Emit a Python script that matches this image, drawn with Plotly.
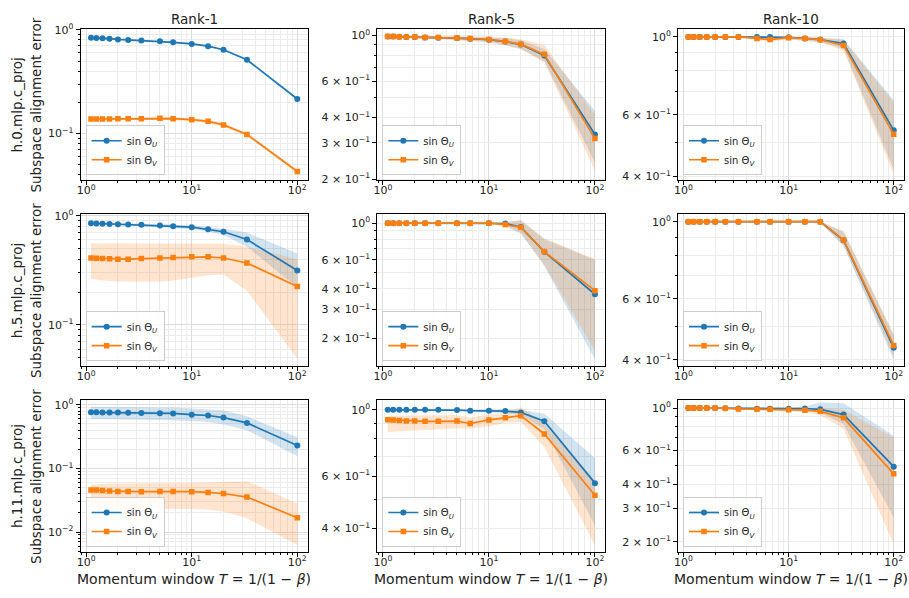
import plotly.graph_objects as go
import math

# ---------------- data ----------------
betas = [0.1, 0.2, 0.3, 0.4, 0.5, 0.6, 0.7, 0.8, 0.85, 0.9, 0.93, 0.95, 0.97, 0.99]
T = [1.0 / (1.0 - b) for b in betas]

layers = ["h.0.mlp.c_proj", "h.5.mlp.c_proj", "h.11.mlp.c_proj"]
ranks = ["Rank-1", "Rank-5", "Rank-10"]
series_names = ["sin Θ<sub><i>U</i></sub>", "sin Θ<sub><i>V</i></sub>"]

# h.0 / Rank-1
h0_r1_U = [0.837, 0.835, 0.83, 0.822, 0.808, 0.80, 0.787, 0.775, 0.758, 0.732, 0.695, 0.643, 0.514, 0.215]
h0_r1_U_lo = [0.825, 0.823, 0.818, 0.81, 0.797, 0.789, 0.776, 0.764, 0.745, 0.72, 0.683, 0.632, 0.505, 0.21]
h0_r1_U_hi = [0.849, 0.847, 0.842, 0.834, 0.82, 0.812, 0.798, 0.787, 0.771, 0.745, 0.707, 0.655, 0.524, 0.221]
h0_r1_V = [0.138, 0.138, 0.138, 0.138, 0.139, 0.139, 0.139, 0.14, 0.139, 0.136, 0.131, 0.121, 0.098, 0.043]
h0_r1_V_lo = [0.134, 0.134, 0.134, 0.134, 0.135, 0.135, 0.135, 0.136, 0.134, 0.131, 0.126, 0.116, 0.095, 0.0415]
h0_r1_V_hi = [0.142, 0.142, 0.142, 0.142, 0.143, 0.143, 0.143, 0.144, 0.144, 0.141, 0.136, 0.126, 0.101, 0.0445]

# h.0 / Rank-5
h0_r5_U = [0.99, 0.99, 0.988, 0.985, 0.983, 0.98, 0.977, 0.972, 0.966, 0.955, 0.935, 0.905, 0.80, 0.33]
h0_r5_U_lo = [0.985, 0.984, 0.982, 0.978, 0.975, 0.97, 0.965, 0.955, 0.945, 0.93, 0.90, 0.86, 0.75, 0.24]
h0_r5_U_hi = [0.995, 0.995, 0.994, 0.992, 0.99, 0.99, 0.988, 0.988, 0.985, 0.98, 0.97, 0.95, 0.86, 0.43]
h0_r5_V = [0.99, 0.99, 0.988, 0.985, 0.983, 0.98, 0.978, 0.973, 0.968, 0.957, 0.937, 0.908, 0.81, 0.315]
h0_r5_V_lo = [0.982, 0.981, 0.978, 0.975, 0.97, 0.965, 0.96, 0.95, 0.94, 0.925, 0.895, 0.86, 0.74, 0.22]
h0_r5_V_hi = [0.998, 0.998, 0.997, 0.995, 0.995, 0.995, 0.995, 0.995, 0.995, 0.99, 0.98, 0.96, 0.90, 0.41]

# h.0 / Rank-10
h0_r10_U = [1.0, 1.0, 1.0, 1.0, 1.0, 1.0, 1.0, 1.0, 1.0, 0.998, 0.99, 0.983, 0.958, 0.542]
h0_r10_U_lo = [0.998, 0.998, 0.998, 0.998, 0.998, 0.997, 0.996, 0.99, 0.985, 0.985, 0.975, 0.965, 0.925, 0.42]
h0_r10_U_hi = [1.0, 1.0, 1.0, 1.0, 1.0, 1.0, 1.0, 1.0, 1.0, 1.0, 1.0, 0.995, 0.985, 0.66]
h0_r10_V = [1.0, 1.0, 1.0, 1.0, 1.0, 1.0, 1.0, 0.99, 0.983, 0.995, 0.99, 0.982, 0.946, 0.528]
h0_r10_V_lo = [0.998, 0.998, 0.998, 0.998, 0.998, 0.997, 0.996, 0.98, 0.97, 0.985, 0.975, 0.965, 0.915, 0.405]
h0_r10_V_hi = [1.0, 1.0, 1.0, 1.0, 1.0, 1.0, 1.0, 0.995, 0.995, 1.0, 1.0, 0.995, 0.98, 0.65]

# h.5 / Rank-1
h5_r1_U = [0.853, 0.85, 0.845, 0.84, 0.835, 0.83, 0.825, 0.815, 0.80, 0.785, 0.753, 0.713, 0.605, 0.315]
h5_r1_U_lo = [0.835, 0.832, 0.827, 0.822, 0.817, 0.81, 0.805, 0.79, 0.775, 0.755, 0.715, 0.665, 0.52, 0.22]
h5_r1_U_hi = [0.87, 0.868, 0.863, 0.858, 0.853, 0.85, 0.845, 0.84, 0.83, 0.815, 0.79, 0.76, 0.70, 0.45]
h5_r1_V = [0.41, 0.408, 0.405, 0.403, 0.40, 0.40, 0.405, 0.41, 0.415, 0.42, 0.42, 0.41, 0.369, 0.225]
h5_r1_V_lo = [0.265, 0.26, 0.255, 0.252, 0.25, 0.248, 0.248, 0.25, 0.255, 0.27, 0.285, 0.29, 0.206, 0.049]
h5_r1_V_hi = [0.56, 0.56, 0.558, 0.555, 0.555, 0.555, 0.557, 0.56, 0.56, 0.56, 0.56, 0.555, 0.52, 0.40]

# h.5 / Rank-5
h5_r5_U = [1.0, 1.0, 1.0, 1.0, 1.0, 1.0, 1.0, 1.0, 1.0, 1.0, 0.995, 0.947, 0.67, 0.371]
h5_r5_U_lo = [0.999, 0.999, 0.999, 0.999, 0.999, 0.999, 0.999, 0.999, 0.999, 0.998, 0.97, 0.87, 0.55, 0.15]
h5_r5_U_hi = [1.0, 1.0, 1.0, 1.0, 1.0, 1.0, 1.0, 1.0, 1.0, 1.0, 1.01, 1.04, 0.80, 0.60]
h5_r5_V = [1.0, 1.0, 1.0, 1.0, 1.0, 1.0, 1.0, 1.0, 1.0, 1.0, 0.98, 0.945, 0.672, 0.39]
h5_r5_V_lo = [0.999, 0.999, 0.999, 0.999, 0.999, 0.999, 0.999, 0.999, 0.999, 0.998, 0.95, 0.87, 0.56, 0.168]
h5_r5_V_hi = [1.0, 1.0, 1.0, 1.0, 1.0, 1.0, 1.0, 1.0, 1.0, 1.0, 1.01, 1.04, 0.81, 0.607]

# h.5 / Rank-10
h5_r10_U = [1.0, 1.0, 1.0, 1.0, 1.0, 1.0, 1.0, 1.0, 1.0, 1.0, 1.0, 1.0, 0.884, 0.433]
h5_r10_U_lo = [0.999, 0.999, 0.999, 0.999, 0.999, 0.999, 0.999, 0.999, 0.999, 0.999, 0.999, 0.995, 0.85, 0.40]
h5_r10_U_hi = [1.0, 1.0, 1.0, 1.0, 1.0, 1.0, 1.0, 1.0, 1.0, 1.0, 1.0, 1.0, 0.935, 0.47]
h5_r10_V = [1.0, 1.0, 1.0, 1.0, 1.0, 1.0, 1.0, 1.0, 1.0, 1.0, 1.0, 1.0, 0.886, 0.44]
h5_r10_V_lo = [0.999, 0.999, 0.999, 0.999, 0.999, 0.999, 0.999, 0.999, 0.999, 0.999, 0.999, 0.995, 0.855, 0.41]
h5_r10_V_hi = [1.0, 1.0, 1.0, 1.0, 1.0, 1.0, 1.0, 1.0, 1.0, 1.0, 1.0, 1.0, 0.94, 0.475]

# h.11 / Rank-1
h11_r1_U = [0.764, 0.762, 0.76, 0.758, 0.755, 0.75, 0.745, 0.74, 0.733, 0.70, 0.68, 0.63, 0.52, 0.229]
h11_r1_U_lo = [0.60, 0.60, 0.60, 0.595, 0.592, 0.59, 0.585, 0.58, 0.575, 0.555, 0.535, 0.49, 0.40, 0.155]
h11_r1_U_hi = [0.93, 0.93, 0.925, 0.925, 0.92, 0.92, 0.915, 0.91, 0.905, 0.88, 0.86, 0.82, 0.66, 0.31]
h11_r1_V = [0.046, 0.046, 0.045, 0.044, 0.0435, 0.0433, 0.0432, 0.0433, 0.0433, 0.0432, 0.042, 0.0404, 0.0355, 0.0168]
h11_r1_V_lo = [0.024, 0.024, 0.0238, 0.0235, 0.0232, 0.023, 0.023, 0.023, 0.023, 0.023, 0.0225, 0.021, 0.0165, 0.0063]
h11_r1_V_hi = [0.056, 0.057, 0.057, 0.058, 0.058, 0.058, 0.058, 0.058, 0.058, 0.059, 0.06, 0.062, 0.063, 0.028]

# h.11 / Rank-5
h11_r5_U = [1.0, 1.0, 1.0, 1.0, 1.0, 1.0, 1.0, 0.998, 0.993, 0.993, 0.99, 0.98, 0.916, 0.568]
h11_r5_U_lo = [0.998, 0.998, 0.998, 0.998, 0.998, 0.998, 0.997, 0.995, 0.985, 0.98, 0.975, 0.96, 0.86, 0.41]
h11_r5_U_hi = [1.0, 1.0, 1.0, 1.0, 1.0, 1.0, 1.0, 1.0, 1.0, 1.0, 1.0, 1.0, 0.97, 0.69]
h11_r5_V = [0.927, 0.925, 0.92, 0.918, 0.918, 0.915, 0.915, 0.917, 0.90, 0.925, 0.94, 0.956, 0.83, 0.517]
h11_r5_V_lo = [0.843, 0.845, 0.848, 0.85, 0.852, 0.855, 0.86, 0.865, 0.865, 0.88, 0.905, 0.91, 0.75, 0.352]
h11_r5_V_hi = [0.955, 0.955, 0.955, 0.955, 0.955, 0.955, 0.955, 0.96, 0.94, 0.965, 0.98, 1.02, 0.90, 0.58]

# h.11 / Rank-10
h11_r10_U = [1.0, 1.0, 1.0, 1.0, 1.0, 0.998, 0.995, 0.993, 0.993, 0.993, 0.995, 0.985, 0.925, 0.494]
h11_r10_U_lo = [0.998, 0.998, 0.998, 0.998, 0.997, 0.994, 0.99, 0.985, 0.982, 0.98, 0.975, 0.95, 0.82, 0.268]
h11_r10_U_hi = [1.0, 1.0, 1.0, 1.0, 1.0, 1.0, 1.0, 1.0, 1.0, 1.0, 1.02, 1.07, 1.06, 0.716]
h11_r10_V = [1.0, 1.0, 1.0, 1.0, 1.0, 0.998, 0.99, 0.985, 0.985, 0.98, 0.975, 0.962, 0.889, 0.453]
h11_r10_V_lo = [0.997, 0.997, 0.997, 0.997, 0.996, 0.993, 0.98, 0.975, 0.97, 0.965, 0.955, 0.92, 0.78, 0.194]
h11_r10_V_hi = [1.0, 1.0, 1.0, 1.0, 1.0, 1.0, 0.995, 0.99, 0.99, 0.99, 0.99, 1.0, 0.98, 0.70]

# labelled y ticks per panel (row-major)
yticks_labeled = [
    [0.1, 1.0], [0.2, 0.3, 0.4, 0.6, 1.0], [0.4, 0.6, 1.0],
    [0.1, 1.0], [0.2, 0.3, 0.4, 0.6, 1.0], [0.4, 0.6, 1.0],
    [0.01, 0.1, 1.0], [0.4, 0.6, 1.0], [0.2, 0.3, 0.4, 0.6, 1.0],
]
xticks_labeled = [1, 10, 100]

panels = [
    (h0_r1_U, h0_r1_U_lo, h0_r1_U_hi, h0_r1_V, h0_r1_V_lo, h0_r1_V_hi),
    (h0_r5_U, h0_r5_U_lo, h0_r5_U_hi, h0_r5_V, h0_r5_V_lo, h0_r5_V_hi),
    (h0_r10_U, h0_r10_U_lo, h0_r10_U_hi, h0_r10_V, h0_r10_V_lo, h0_r10_V_hi),
    (h5_r1_U, h5_r1_U_lo, h5_r1_U_hi, h5_r1_V, h5_r1_V_lo, h5_r1_V_hi),
    (h5_r5_U, h5_r5_U_lo, h5_r5_U_hi, h5_r5_V, h5_r5_V_lo, h5_r5_V_hi),
    (h5_r10_U, h5_r10_U_lo, h5_r10_U_hi, h5_r10_V, h5_r10_V_lo, h5_r10_V_hi),
    (h11_r1_U, h11_r1_U_lo, h11_r1_U_hi, h11_r1_V, h11_r1_V_lo, h11_r1_V_hi),
    (h11_r5_U, h11_r5_U_lo, h11_r5_U_hi, h11_r5_V, h11_r5_V_lo, h11_r5_V_hi),
    (h11_r10_U, h11_r10_U_lo, h11_r10_U_hi, h11_r10_V, h11_r10_V_lo, h11_r10_V_hi),
]

# ---------------- layout / style ----------------
W, H = 909, 598
FONT = "DejaVu Sans"
TXT = "#222222"
BLUE, ORANGE = "#1f77b4", "#ff7f0e"
BLUE_F, ORANGE_F = "rgba(31,119,180,0.2)", "rgba(255,127,14,0.2)"

col_px = [(77, 305), (375, 604), (677, 904)]
row_px = [(22.7, 177), (212, 367), (402, 557)]
y_ranges = [
    [-1.45, 0.006], [-0.704, 0.031], [-0.408, 0.022],
    [-1.376, 0.012], [-0.865, 0.053], [-0.416, 0.021],
    [-2.312, 0.072], [-0.476, 0.032], [-0.752, 0.041],
]
x_range = [-0.052, 2.098]


def fmt_tick(v):
    e = int(math.floor(math.log10(v) + 1e-9))
    m = round(v / 10 ** e)
    es = ("−" + str(-e)) if e < 0 else str(e)
    if m == 1:
        return "10<sup>%s</sup>" % es
    return "%d × 10<sup>%s</sup>" % (m, es)


def minor_vals(labeled):
    out = []
    for e in range(-3, 3):
        for m in range(1, 10):
            v = round(m * 10 ** e, 6)
            if all(abs(v - l) > 1e-9 for l in labeled):
                out.append(v)
    return out


fig = go.Figure()
layout = dict(
    width=W, height=H,
    margin=dict(l=0, r=0, t=0, b=0),
    paper_bgcolor="white", plot_bgcolor="white",
    font=dict(family=FONT, size=11, color=TXT),
    annotations=[],
)

GRID_MAJ = "#dcdcdc"
GRID_MIN = "#ececec"

for i, (U, U_lo, U_hi, V, V_lo, V_hi) in enumerate(panels):
    r, c = divmod(i, 3)
    n = i + 1
    xa = "x" if n == 1 else "x%d" % n
    ya = "y" if n == 1 else "y%d" % n
    lg = "legend" if n == 1 else "legend%d" % n
    x0, x1 = col_px[c]
    yt, yb = row_px[r]

    # bands
    fig.add_trace(go.Scatter(x=T + T[::-1], y=U_hi + U_lo[::-1], fill="toself",
                             fillcolor=BLUE_F, line=dict(width=0), mode="lines",
                             hoverinfo="skip", showlegend=False, xaxis=xa, yaxis=ya))
    fig.add_trace(go.Scatter(x=T + T[::-1], y=V_hi + V_lo[::-1], fill="toself",
                             fillcolor=ORANGE_F, line=dict(width=0), mode="lines",
                             hoverinfo="skip", showlegend=False, xaxis=xa, yaxis=ya))
    # lines
    fig.add_trace(go.Scatter(x=T, y=U, mode="lines+markers", name=series_names[0],
                             line=dict(color=BLUE, width=1.7),
                             marker=dict(symbol="circle", size=6, color=BLUE),
                             xaxis=xa, yaxis=ya, legend=lg))
    fig.add_trace(go.Scatter(x=T, y=V, mode="lines+markers", name=series_names[1],
                             line=dict(color=ORANGE, width=1.7),
                             marker=dict(symbol="square", size=5.5, color=ORANGE),
                             xaxis=xa, yaxis=ya, legend=lg))

    common = dict(type="log", showline=True, linecolor="black", linewidth=1, mirror=True,
                  ticks="outside", ticklen=4, tickwidth=1, tickcolor="black",
                  showgrid=True, gridcolor=GRID_MAJ, gridwidth=1, zeroline=False,
                  tickfont=dict(family=FONT, size=11, color=TXT))
    xkey = "xaxis" if n == 1 else "xaxis%d" % n
    ykey = "yaxis" if n == 1 else "yaxis%d" % n
    layout[xkey] = dict(common, domain=[x0 / W, x1 / W], anchor=ya, range=x_range,
                        tickmode="array", tickvals=xticks_labeled,
                        ticktext=[fmt_tick(v) for v in xticks_labeled],
                        ticklabelstandoff=-4,
                        minor=dict(tickmode="array", tickvals=minor_vals(xticks_labeled),
                                   ticks="outside", ticklen=2, tickcolor="black",
                                   showgrid=True, gridcolor=GRID_MIN, gridwidth=1))
    labs = yticks_labeled[i]
    layout[ykey] = dict(common, domain=[1 - yb / H, 1 - yt / H], anchor=xa, range=y_ranges[i],
                        tickmode="array", tickvals=labs,
                        ticktext=[fmt_tick(v) for v in labs],
                        gridcolor=GRID_MAJ if c == 0 else GRID_MIN,
                        minor=dict(tickmode="array", tickvals=minor_vals(labs),
                                   ticks="outside", ticklen=2, tickcolor="black",
                                   showgrid=True, gridcolor=GRID_MIN, gridwidth=1))
    layout[lg] = dict(x=(x0 + 5) / W, y=1 - (yb - 5) / H, xanchor="left", yanchor="bottom",
                      bgcolor="rgba(255,255,255,0.85)", bordercolor="#cccccc", borderwidth=1,
                      font=dict(family=FONT, size=10, color=TXT),
                      itemwidth=30, tracegroupgap=0)

# titles and x labels
for c, rk in enumerate(ranks):
    x0, x1 = col_px[c]
    layout["annotations"].append(dict(text=rk, x=(x0 + x1) / 2 / W, y=1 - 12 / H,
                                      xref="paper", yref="paper", showarrow=False,
                                      xanchor="center", yanchor="middle",
                                      font=dict(family=FONT, size=13.5, color=TXT)))
    layout["annotations"].append(dict(text="Momentum window <i>T</i> = 1/(1 − <i>β</i>)",
                                      x=(x0 + x1) / 2 / W, y=1 - 585 / H,
                                      xref="paper", yref="paper", showarrow=False,
                                      xanchor="center", yanchor="middle",
                                      font=dict(family=FONT, size=14, color=TXT)))
# y labels
for r, ln in enumerate(layers):
    yt, yb = row_px[r]
    yc = 1 - (yt + yb) / 2 / H
    layout["annotations"].append(dict(text=ln, x=13 / W, y=yc, xref="paper", yref="paper",
                                      showarrow=False, textangle=-90,
                                      xanchor="center", yanchor="middle",
                                      font=dict(family=FONT, size=13.5, color=TXT)))
    layout["annotations"].append(dict(text="Subspace alignment error", x=32 / W, y=yc,
                                      xref="paper", yref="paper",
                                      showarrow=False, textangle=-90,
                                      xanchor="center", yanchor="middle",
                                      font=dict(family=FONT, size=13.5, color=TXT)))

fig.update_layout(**layout)
fig.write_html("out.html")
